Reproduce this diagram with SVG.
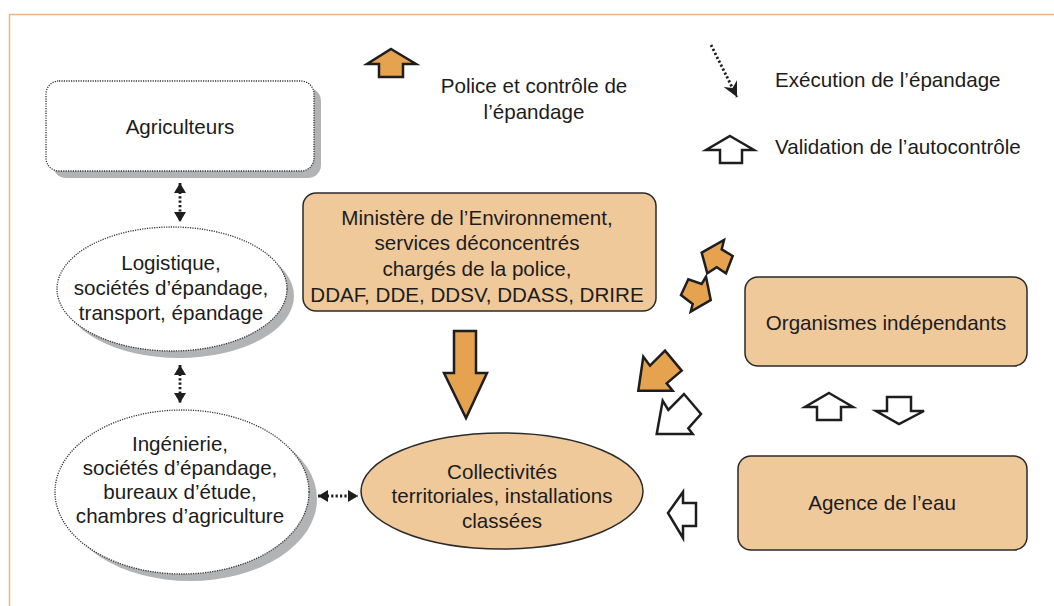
<svg xmlns="http://www.w3.org/2000/svg" width="1054" height="606" viewBox="0 0 1054 606">
<defs>
<style>
text{font-family:"Liberation Sans",Arial,sans-serif;font-size:20.6px;fill:#1c1c1c;text-anchor:middle}
.shadow{fill:#b2b3b5}
.wnode{fill:#fff;stroke:#333;stroke-width:1.3;stroke-dasharray:1.2 1.2}
.onode{fill:#f0c99b;stroke:#2a2a2a;stroke-width:1.5}
.oarrow{fill:#e5a24f;stroke:#1e1e1e;stroke-width:2.5;stroke-linejoin:miter}
.warrow{fill:#fff;stroke:#1e1e1e;stroke-width:2.5;stroke-linejoin:miter}
.dots{fill:none;stroke:#1e1e1e;stroke-width:2.8;stroke-dasharray:2.2 2.2}
</style>
<marker id="tri" viewBox="0 0 10 12" refX="10" refY="6" markerWidth="10" markerHeight="13" markerUnits="userSpaceOnUse" orient="auto-start-reverse">
<path d="M0,0 L10,6 L0,12 z" fill="#1e1e1e"/>
</marker>
<marker id="stealth" viewBox="0 0 12 12" refX="12" refY="6" markerWidth="15" markerHeight="15" markerUnits="userSpaceOnUse" orient="auto">
<path d="M0,0 L12,6 L0,12 L4,6 z" fill="#1e1e1e"/>
</marker>
</defs>
<rect width="1054" height="606" fill="#fff"/>
<path d="M9.5,606 L9.5,14.5 L1054,14.5" fill="none" stroke="#efb57d" stroke-width="1.5"/>

<g id="legend">
<path class="oarrow" d="M391,49 L416,64 L403,64 L403,77 L379,77 L379,64 L367,64 Z"/>
<text x="534" y="93">Police et contrôle de</text>
<text x="534" y="119">l’épandage</text>
<path class="dots" d="M711,45 L737,97" marker-end="url(#stealth)"/>
<text x="775" y="87" style="text-anchor:start">Exécution de l’épandage</text>
<path class="warrow" d="M730,136 L754,150 L742,150 L742,163 L720,163 L720,150 L706,150 Z"/>
<text x="775" y="154" style="text-anchor:start">Validation de l’autocontrôle</text>
</g>

<g id="agriculteurs">
<rect class="shadow" x="53" y="88" width="268" height="90" rx="13"/>
<rect class="wnode" x="46" y="81" width="268" height="90" rx="13"/>
<text x="180" y="134">Agriculteurs</text>
</g>

<g id="logistique">
<ellipse class="shadow" cx="179" cy="296" rx="115" ry="62"/>
<ellipse class="wnode" cx="172" cy="289" rx="115" ry="62"/>
<text x="171" y="270">Logistique,</text>
<text x="171" y="295">sociétés d’épandage,</text>
<text x="171" y="320">transport, épandage</text>
</g>

<g id="ingenierie">
<ellipse class="shadow" cx="190" cy="499" rx="127" ry="82"/>
<ellipse class="wnode" cx="182" cy="492" rx="127" ry="82"/>
<text x="180" y="451">Ingénierie,</text>
<text x="180" y="475">sociétés d’épandage,</text>
<text x="180" y="499">bureaux d’étude,</text>
<text x="180" y="523">chambres d’agriculture</text>
</g>

<g id="ministere">
<rect class="onode" x="303" y="193" width="353" height="118" rx="13"/>
<text x="477" y="225">Ministère de l’Environnement,</text>
<text x="477" y="250">services déconcentrés</text>
<text x="477" y="276">chargés de la police,</text>
<text x="477" y="302">DDAF, DDE, DDSV, DDASS, DRIRE</text>
</g>

<g id="collectivites">
<ellipse class="onode" cx="502" cy="491" rx="141" ry="58"/>
<text x="502" y="479">Collectivités</text>
<text x="502" y="503">territoriales, installations</text>
<text x="502" y="528">classées</text>
</g>

<g id="organismes">
<rect class="onode" x="745" y="277" width="282" height="89" rx="13"/>
<text x="886" y="330">Organismes indépendants</text>
</g>

<g id="agence">
<rect class="onode" x="738" y="456" width="289" height="94" rx="13"/>
<text x="882" y="510">Agence de l’eau</text>
</g>

<g id="connectors">
<path class="dots" d="M180,183 L180,222" marker-start="url(#tri)" marker-end="url(#tri)"/>
<path class="dots" d="M180,365 L180,403" marker-start="url(#tri)" marker-end="url(#tri)"/>
<path class="dots" d="M318,496 L358,496" marker-start="url(#tri)" marker-end="url(#tri)"/>
<path class="oarrow" d="M454,331 L476,331 L476,373 L487,373 L466,418 L444,373 L454,373 Z"/>
<path class="oarrow" d="M701.7,252.7 L724,240 L721.7,249.3 L732.7,256 L726,273.3 L716.7,267.3 L707.3,273.3 Z"/>
<path class="oarrow" d="M710.7,300 L706,276.7 L701.7,284 L688.3,279.3 L681,295 L692.7,304 L690.7,311.7 Z"/>
<path class="oarrow" d="M638.3,390.7 L643.3,356.7 L650,365.7 L665,350.7 L681.7,370.7 L666.7,383.3 L672.7,390.7 Z"/>
<path class="warrow" d="M656.7,434 L662.7,400.7 L668.3,410 L684,394 L701,414 L688.3,428.3 L692.7,434 Z"/>
<path class="warrow" d="M829,393 L853,407 L841,407 L841,420 L817,420 L817,407 L805,407 Z"/>
<path class="warrow" d="M887,397 L911,397 L911,411 L924,411 L899,424 L876,411 L887,411 Z"/>
<path class="warrow" d="M668,513 L683,492 L683,503 L696,503 L696,526 L683,526 L683,538 Z"/>
</g>
</svg>
